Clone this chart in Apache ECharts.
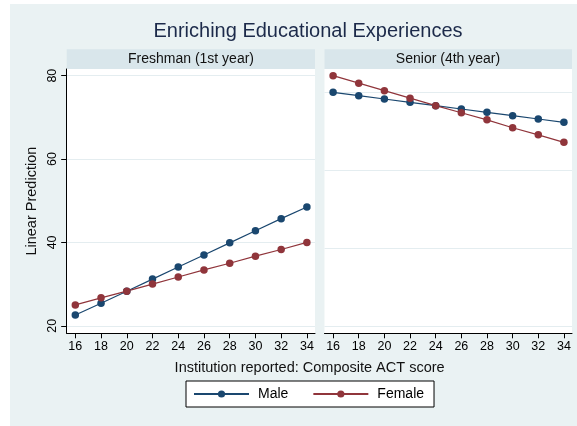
<!DOCTYPE html>
<html>
<head>
<meta charset="utf-8">
<script src="https://cdn.jsdelivr.net/npm/echarts@6/dist/echarts.min.js"></script>
<style>
html, body { margin: 0; padding: 0; background: #fff; }
#chart { width: 577px; height: 426px; }
</style>
</head>
<body>
<div id="chart"></div>
<script>
// ACT scores on the x axis
var actScores = [16, 18, 20, 22, 24, 26, 28, 30, 32, 34];
// Linear predictions
var freshmanMale   = [22.6, 25.4, 28.3, 31.2, 34.1, 37.0, 39.9, 42.8, 45.7, 48.5];
var freshmanFemale = [25.0, 26.7, 28.3, 30.0, 31.7, 33.4, 35.0, 36.7, 38.3, 40.0];
var seniorMale     = [76.0, 75.2, 74.4, 73.6, 72.8, 72.0, 71.2, 70.4, 69.6, 68.8];
var seniorFemale   = [80.0, 78.2, 76.4, 74.6, 72.8, 71.1, 69.4, 67.5, 65.8, 64.0];
// tick / grid values
var yTicks = [20, 40, 60, 80];
var seniorGridLines = [20, 38.6, 57.4, 76];
var panelTitles = ['Freshman (1st year)', 'Senior (4th year)'];

var FONT = '"Liberation Sans", Arial, Helvetica, sans-serif';
var MALE = '#1a476f', FEMALE = '#90353b';
var BG = '#eaf2f3', STRIP = '#d9e6eb', GRIDLINE = '#e4edf0';

function pairs(ys) {
	return actScores.map(function (x, i) { return [x, ys[i]]; });
}

function lineSeries(name, color, ys, idx) {
	return {
		name: name,
		type: 'line',
		xAxisIndex: idx,
		yAxisIndex: idx,
		data: pairs(ys),
		symbol: 'circle',
		symbolSize: 7.5,
		showAllSymbol: true,
		lineStyle: { color: color, width: 1.2 },
		itemStyle: { color: color },
		emphasis: { disabled: true }
	};
}

function xAxisFor(idx) {
	return {
		type: 'value',
		gridIndex: idx,
		min: 15.33,
		max: 34.63,
		axisLine: { show: true, lineStyle: { color: '#000', width: 1 } },
		axisTick: { show: true, length: 5, customValues: actScores, lineStyle: { color: '#000' } },
		axisLabel: { customValues: actScores, fontSize: 12.5, color: '#000', fontFamily: FONT, margin: 7 },
		splitLine: { show: false }
	};
}

var chart = echarts.init(document.getElementById('chart'));
chart.setOption({
	animation: false,
	backgroundColor: '#fff',
	textStyle: { fontFamily: FONT },
	graphic: [
		{ type: 'rect', z: -100, shape: { x: 10, y: 4, width: 567, height: 422 }, style: { fill: BG } },
		{ type: 'rect', shape: { x: 66.7, y: 49.3, width: 248.3, height: 19.7 }, style: { fill: STRIP } },
		{ type: 'rect', shape: { x: 324.5, y: 49.3, width: 247.5, height: 19.7 }, style: { fill: STRIP } },
		{ type: 'text', x: 308, y: 31.7, style: { text: 'Enriching Educational Experiences', fill: '#1c2a4a', font: '20px ' + FONT, textAlign: 'center', textVerticalAlign: 'middle' } },
		{ type: 'text', x: 191, y: 59.5, style: { text: panelTitles[0], fill: '#111', font: '14px ' + FONT, textAlign: 'center', textVerticalAlign: 'middle' } },
		{ type: 'text', x: 448, y: 59.5, style: { text: panelTitles[1], fill: '#111', font: '14px ' + FONT, textAlign: 'center', textVerticalAlign: 'middle' } },
		{ type: 'text', x: 309.6, y: 367.7, style: { text: 'Institution reported: Composite ACT score', fill: '#111', font: '14.5px ' + FONT, textAlign: 'center', textVerticalAlign: 'middle' } }
	],
	legend: {
		left: 186,
		top: 381,
		padding: [6, 10, 6, 7],
		itemGap: 24,
		itemWidth: 55,
		itemHeight: 9,
		backgroundColor: '#fff',
		borderColor: '#000',
		borderWidth: 1,
		borderRadius: 0,
		data: ['Male', 'Female'],
		textStyle: { fontSize: 14, color: '#000', fontFamily: FONT, padding: [0, 0, 0, 4] }
	},
	grid: [
		{ left: 66.7, top: 69, width: 248.3, height: 264.3, show: true, backgroundColor: '#fff', borderWidth: 0 },
		{ left: 324.5, top: 69, width: 247.5, height: 264.3, show: true, backgroundColor: '#fff', borderWidth: 0 }
	],
	xAxis: [xAxisFor(0), xAxisFor(1)],
	yAxis: [
		{
			type: 'value',
			gridIndex: 0,
			min: 18.2,
			max: 81.6,
			name: 'Linear Prediction',
			nameLocation: 'middle',
			nameRotate: 90,
			nameGap: 27,
			nameTextStyle: { fontSize: 14.5, color: '#111', fontFamily: FONT },
			axisLine: { show: true, lineStyle: { color: '#000', width: 1 } },
			axisTick: { show: true, length: 5.5, customValues: yTicks, lineStyle: { color: '#000' } },
			axisLabel: { customValues: yTicks, rotate: 90, fontSize: 12.5, color: '#000', fontFamily: FONT, margin: 8 },
			splitLine: { show: true, lineStyle: { color: GRIDLINE, width: 1 } }
		},
		{
			type: 'value',
			gridIndex: 1,
			min: 18.2,
			max: 81.6,
			axisLine: { show: false },
			axisTick: { show: false, customValues: seniorGridLines },
			axisLabel: { show: false, customValues: seniorGridLines },
			splitLine: { show: true, lineStyle: { color: GRIDLINE, width: 1 } }
		}
	],
	series: [
		lineSeries('Male', MALE, freshmanMale, 0),
		lineSeries('Female', FEMALE, freshmanFemale, 0),
		lineSeries('Male', MALE, seniorMale, 1),
		lineSeries('Female', FEMALE, seniorFemale, 1)
	]
});
</script>
</body>
</html>
